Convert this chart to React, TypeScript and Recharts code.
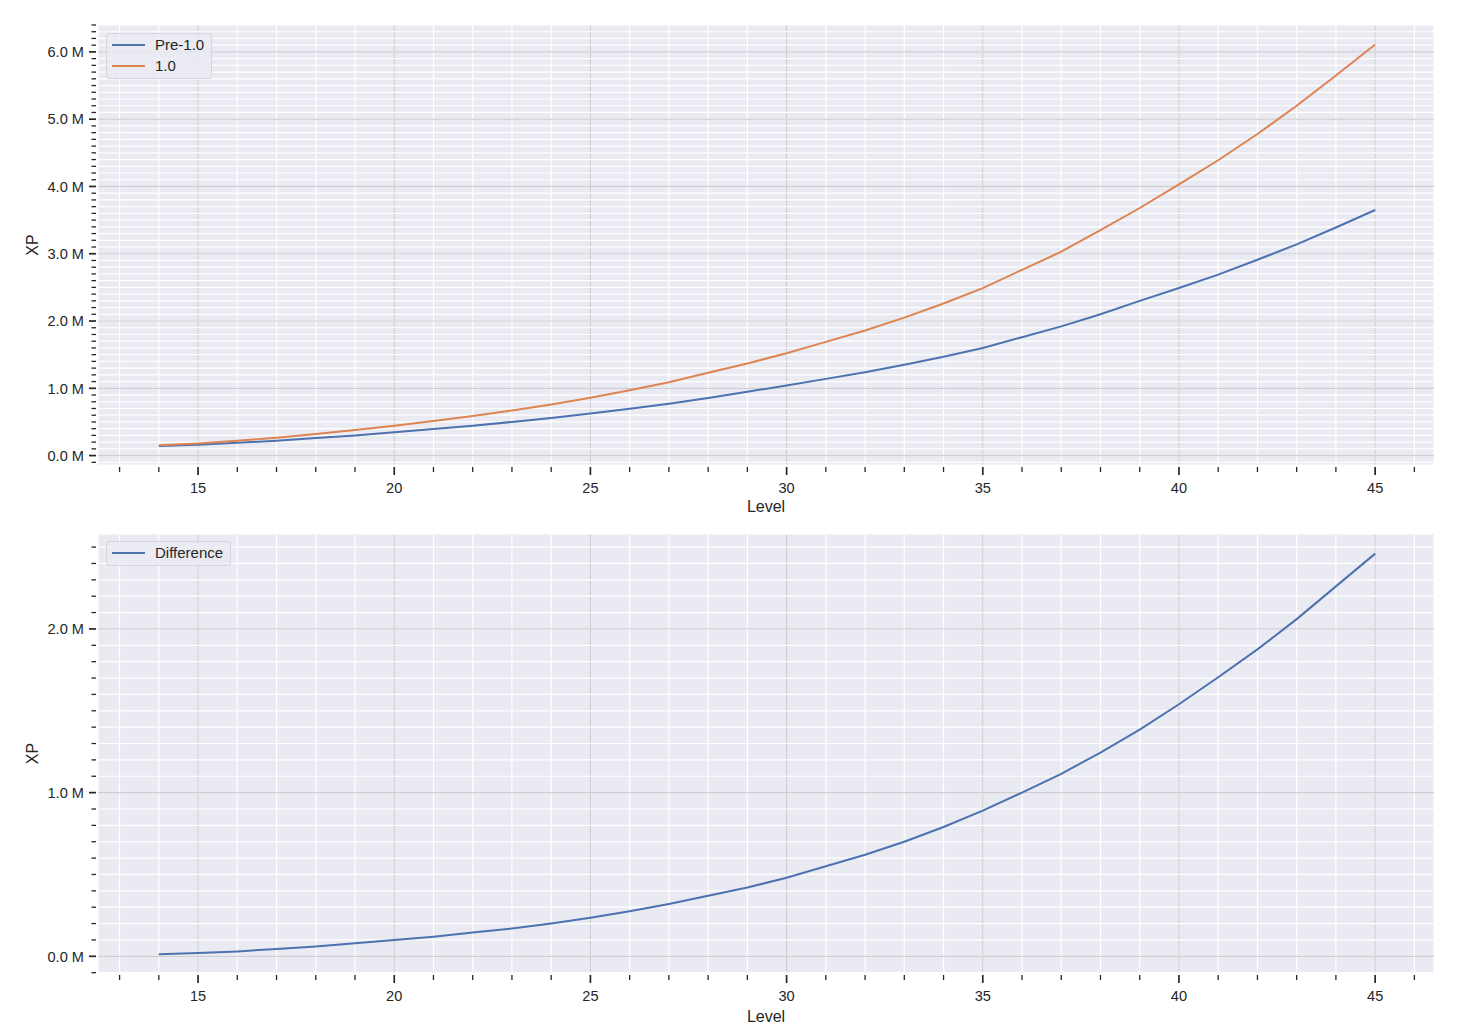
import React from 'react';
import { LineChart, Line, XAxis, YAxis, CartesianGrid, Legend } from 'recharts';

// ---- Data ----
const LEVELS = [14, 15, 16, 17, 18, 19, 20, 21, 22, 23, 24, 25, 26, 27, 28, 29, 30, 31, 32, 33, 34, 35, 36, 37, 38, 39, 40, 41, 42, 43, 44, 45];

const XP_PRE_1_0 = [
  142000, 160000, 190000, 220000, 260000, 300000, 345000, 395000, 445000, 500000,
  560000, 625000, 695000, 770000, 855000, 950000, 1040000, 1140000, 1240000, 1350000,
  1470000, 1600000, 1760000, 1920000, 2100000, 2300000, 2490000, 2690000, 2910000, 3140000,
  3390000, 3650000,
];

const XP_1_0 = [
  154000, 180000, 220000, 265000, 320000, 380000, 445000, 515000, 590000, 670000,
  760000, 860000, 970000, 1090000, 1230000, 1370000, 1520000, 1690000, 1860000, 2050000,
  2260000, 2490000, 2760000, 3030000, 3350000, 3680000, 4030000, 4390000, 4780000, 5200000,
  5650000, 6110000,
];

const XP_DIFFERENCE = [
  12000, 20000, 30000, 45000, 60000, 80000, 100000, 120000, 145000, 170000,
  200000, 235000, 275000, 320000, 370000, 420000, 480000, 550000, 620000, 700000,
  790000, 890000, 1000000, 1115000, 1245000, 1385000, 1540000, 1705000, 1875000, 2060000,
  2260000, 2460000,
];

const LEGEND_ORDER = ['Pre-1.0', '1.0', 'Difference'];
const X_MAJOR_TICKS = [15, 20, 25, 30, 35, 40, 45];
const X_ALL_TICKS = Array.from({ length: 34 }, (_, i) => 13 + i); // 13 .. 46
const TOP_Y_MAJOR = [0, 1000000, 2000000, 3000000, 4000000, 5000000, 6000000];
const TOP_Y_ALL = Array.from({ length: 66 }, (_, i) => (i - 1) * 100000); // -0.1M .. 6.4M
const BOTTOM_Y_MAJOR = [0, 1000000, 2000000];
const BOTTOM_Y_ALL = Array.from({ length: 27 }, (_, i) => (i - 1) * 100000); // -0.1M .. 2.5M

const X_DOMAIN: [number, number] = [12.45, 46.5];
const TOP_Y_DOMAIN: [number, number] = [-140000, 6400000];
const BOTTOM_Y_DOMAIN: [number, number] = [-102000, 2580000];

const topData = LEVELS.map((level, i) => ({ level, pre: XP_PRE_1_0[i], v10: XP_1_0[i] }));
const bottomData = LEVELS.map((level, i) => ({ level, diff: XP_DIFFERENCE[i] }));

// ---- Styles ----
const FONT = '"Liberation Sans", Arial, "DejaVu Sans", sans-serif';
const TEXT = '#262626';
const BLUE = '#4c72b0';
const ORANGE = '#dd8452';
const BG = '#eaeaf2';
const MAJOR_GRID = '#cdcdd2';

const XTick = (props: any) => {
  const { x, y, payload } = props;
  const v = payload.value;
  const major = Math.round(v) % 5 === 0;
  return (
    <g>
      <line x1={x} x2={x} y1={y + 2} y2={y + (major ? 10 : 7)} stroke={TEXT} strokeWidth={major ? 1.7 : 1.3} />
      {major && (
        <text x={x} y={y + 28} textAnchor="middle" fontSize={14.6} fontFamily={FONT} fill={TEXT}>
          {v}
        </text>
      )}
    </g>
  );
};

const YTick = (props: any) => {
  const { x, y, payload } = props;
  const v = payload.value;
  const major = Math.round(v / 100000) % 10 === 0;
  return (
    <g>
      <line x1={x - 2} x2={x - (major ? 9 : 6.5)} y1={y} y2={y} stroke={TEXT} strokeWidth={major ? 1.7 : 1.3} />
      {major && (
        <text x={x - 14} y={y} dy="0.36em" textAnchor="end" fontSize={14.6} fontFamily={FONT} fill={TEXT}>
          {(v / 1000000).toFixed(1) + ' M'}
        </text>
      )}
    </g>
  );
};

const renderLegend = (props: any) => {
  const items = [...(props.payload || [])].sort(
    (a: any, b: any) => LEGEND_ORDER.indexOf(a.value) - LEGEND_ORDER.indexOf(b.value)
  );
  return (
    <div
      style={{
        border: '1px solid #d6d6dc',
        borderRadius: 3,
        background: 'rgba(234,234,242,0.8)',
        padding: '0px 7px 2px 5px',
        fontFamily: FONT,
        fontSize: 15,
        color: TEXT,
        boxSizing: 'border-box',
      }}
    >
      {items.map((e: any) => (
        <div key={e.value} style={{ display: 'flex', alignItems: 'center', height: 21 }}>
          <svg width={33} height={4} style={{ display: 'block' }}>
            <line x1={0} x2={33} y1={2} y2={2} stroke={e.color} strokeWidth={2} />
          </svg>
          <span style={{ marginLeft: 10, lineHeight: '21px' }}>{e.value}</span>
        </div>
      ))}
    </div>
  );
};

const grids = (yMajor: number[]) => [
  <CartesianGrid key="gv" vertical horizontal={false} stroke="#ffffff" strokeWidth={1.2} fill={BG} fillOpacity={1} />,
  <CartesianGrid key="gvm" vertical horizontal={false} verticalValues={X_MAJOR_TICKS} stroke={MAJOR_GRID} strokeWidth={1.2} />,
  <CartesianGrid key="gh" horizontal vertical={false} stroke="#ffffff" strokeWidth={1.2} />,
  <CartesianGrid key="ghm" horizontal vertical={false} horizontalValues={yMajor} stroke={MAJOR_GRID} strokeWidth={1.2} />,
];

const axes = (yDomain: [number, number], yTicks: number[], labelOffset: number, xHeight: number) => [
  <XAxis
    key="x"
    dataKey="level"
    type="number"
    domain={X_DOMAIN}
    ticks={X_ALL_TICKS}
    interval={0}
    allowDataOverflow
    tickSize={0}
    tickMargin={0}
    tickLine={false}
    axisLine={false}
    tick={<XTick />}
    height={xHeight}
    label={{ value: 'Level', position: 'insideBottom', offset: labelOffset, style: { fill: TEXT, fontSize: 16, fontFamily: FONT } }}
  />,
  <YAxis
    key="y"
    type="number"
    domain={yDomain}
    ticks={yTicks}
    interval={0}
    allowDataOverflow
    tickSize={0}
    tickMargin={0}
    tickLine={false}
    axisLine={false}
    tick={<YTick />}
    width={98}
    label={{ value: 'XP', angle: -90, position: 'insideLeft', offset: 32, style: { textAnchor: 'middle', fill: TEXT, fontSize: 16, fontFamily: FONT } }}
  />,
];

export default function App() {
  return (
    <div style={{ position: 'absolute', left: 0, top: 0, width: 1477, height: 1032, background: '#ffffff' }}>
      <div style={{ position: 'absolute', left: 0, top: 0 }}>
        <LineChart width={1477} height={516} data={topData} margin={{ top: 25, right: 43, bottom: 0, left: 0 }}>
          {grids(TOP_Y_MAJOR)}
          {axes(TOP_Y_DOMAIN, TOP_Y_ALL, 4, 51)}
          <Legend
            layout="vertical"
            align="center"
            verticalAlign="middle"
            wrapperStyle={{ top: 33, left: 106, width: 'auto', height: 'auto' }}
            content={renderLegend}
          />
          <Line type="linear" dataKey="pre" name="Pre-1.0" stroke={BLUE} strokeWidth={2} dot={false} activeDot={false} isAnimationActive={false} />
          <Line type="linear" dataKey="v10" name="1.0" stroke={ORANGE} strokeWidth={2} dot={false} activeDot={false} isAnimationActive={false} />
        </LineChart>
      </div>
      <div style={{ position: 'absolute', left: 0, top: 516 }}>
        <LineChart width={1477} height={516} data={bottomData} margin={{ top: 18, right: 43, bottom: 0, left: 0 }}>
          {grids(BOTTOM_Y_MAJOR)}
          {axes(BOTTOM_Y_DOMAIN, BOTTOM_Y_ALL, 10, 59)}
          <Legend
            layout="vertical"
            align="center"
            verticalAlign="middle"
            wrapperStyle={{ top: 25, left: 106, width: 'auto', height: 'auto' }}
            content={renderLegend}
          />
          <Line type="linear" dataKey="diff" name="Difference" stroke={BLUE} strokeWidth={2} dot={false} activeDot={false} isAnimationActive={false} />
        </LineChart>
      </div>
    </div>
  );
}
